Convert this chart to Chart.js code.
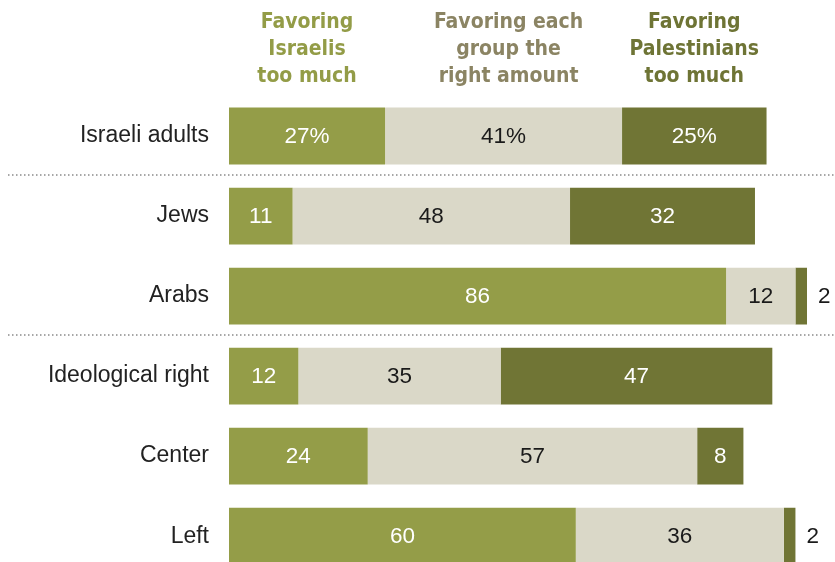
<!DOCTYPE html>
<html>
<head>
<meta charset="utf-8">
<title>Views on favoring sides</title>
<script src="https://cdn.jsdelivr.net/npm/chart.js@4.4.1/dist/chart.umd.min.js"></script>
<style>
  html, body { margin: 0; padding: 0; background: #fff; overflow: hidden; }
  #myChart { display: block; }
</style>
</head>
<body>
<!-- taller than the window on purpose: the last bar is cut off at the bottom edge -->
<canvas id="myChart" width="835" height="610"></canvas>
<script>
// data
var groups = ["Israeli adults", "Jews", "Arabs", "Ideological right", "Center", "Left"];
var israelisTooMuch = [27, 11, 86, 12, 24, 60];
var rightAmount = [41, 48, 12, 35, 57, 36];
var palestiniansTooMuch = [25, 32, 2, 47, 8, 2];
var seriesNames = [
  ["Favoring", "Israelis", "too much"],
  ["Favoring each", "group the", "right amount"],
  ["Favoring", "Palestinians", "too much"]
];
var barColors = ["#949d48", "#dad8c8", "#707535"];
var headColors = ["#939c47", "#8b8463", "#6e7435"];
var labelColors = ["#ffffff", "#1a1a1a", "#ffffff"];
var separatorsAfter = [0, 2]; // dotted line under these rows

var bodyFont = "'Liberation Sans', Arial, sans-serif";
var headFont = "'Liberation Sans Narrow', 'DejaVu Sans Condensed', 'Liberation Sans', sans-serif";

// headers, separators and value labels
var extras = {
  id: 'extras',
  beforeDatasetsDraw: function(chart) {
    var c = chart.ctx, y = chart.scales.y;
    c.save();
    c.strokeStyle = "#8a8a8a";
    c.lineWidth = 1.5;
    c.setLineDash([1.5, 2.5]);
    separatorsAfter.forEach(function(i) {
      var yy = (y.getPixelForValue(i) + y.getPixelForValue(i + 1)) / 2 - 1;
      c.beginPath();
      c.moveTo(8, yy);
      c.lineTo(835, yy);
      c.stroke();
    });
    c.restore();
  },
  afterDatasetsDraw: function(chart) {
    var c = chart.ctx;
    c.save();
    // column headers, centred over the first row's segments
    c.font = "bold 21px " + headFont;
    c.textAlign = "center";
    c.textBaseline = "middle";
    chart.data.datasets.forEach(function(ds, d) {
      var el = chart.getDatasetMeta(d).data[0];
      var cx = (el.x + el.base) / 2 + (d === 1 ? 5 : 0);
      c.fillStyle = headColors[d];
      seriesNames[d].forEach(function(line, k) {
        c.fillText(line, cx, 23 + k * 27);
      });
    });
    // values inside bars, tiny ones just outside
    c.font = "22.5px " + bodyFont;
    chart.data.datasets.forEach(function(ds, d) {
      chart.getDatasetMeta(d).data.forEach(function(el, i) {
        var v = ds.data[i];
        var txt = i === 0 ? v + "%" : String(v);
        if (v < 5) {
          c.textAlign = "left";
          c.fillStyle = "#1a1a1a";
          c.fillText(txt, el.x + 11, el.y + 1);
        } else {
          c.textAlign = "center";
          c.fillStyle = labelColors[d];
          c.fillText(txt, (el.x + el.base) / 2, el.y + 1);
        }
      });
    });
    c.restore();
  }
};

var ctx = document.getElementById("myChart");
var myChart = new Chart(ctx, {
  type: 'bar',
  data: {
    labels: groups,
    datasets: [
      { label: seriesNames[0].join(" "), data: israelisTooMuch, backgroundColor: barColors[0] },
      { label: seriesNames[1].join(" "), data: rightAmount, backgroundColor: barColors[1] },
      { label: seriesNames[2].join(" "), data: palestiniansTooMuch, backgroundColor: barColors[2] }
    ]
  },
  options: {
    indexAxis: 'y',
    responsive: false,
    animation: false,
    categoryPercentage: 1,
    barPercentage: 0.71,
    layout: { padding: { top: 96, bottom: 4, left: 0, right: 28 } },
    plugins: { legend: { display: false }, tooltip: { enabled: false } },
    scales: {
      x: { stacked: true, min: 0, max: 100, display: false },
      y: {
        stacked: true,
        grid: { display: false, drawTicks: false },
        border: { display: false },
        ticks: { color: "#222", font: { size: 23, family: bodyFont }, padding: 20 },
        afterFit: function(scale) { scale.width = 229; }
      }
    }
  },
  plugins: [extras]
});
</script>
</body>
</html>
